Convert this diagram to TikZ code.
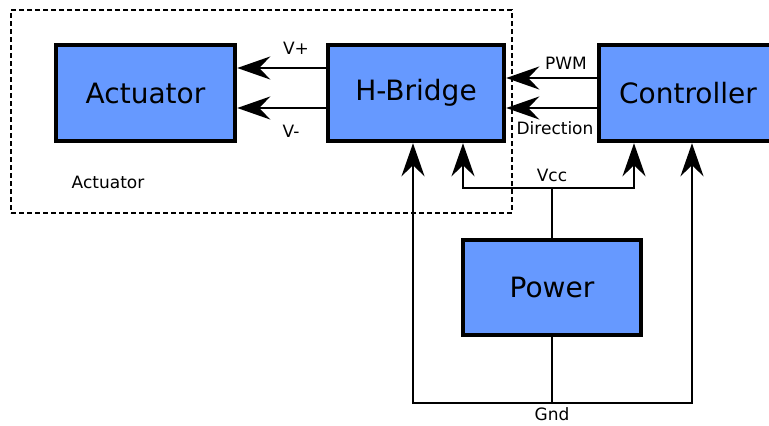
\documentclass[tikz,border=0pt]{standalone}
\usepackage{fontspec}
\setmainfont{DejaVu Sans}
\usetikzlibrary{arrows.meta}
\definecolor{boxblue}{RGB}{102,153,255}
\begin{document}
\begin{tikzpicture}[x=1pt,y=-1pt,
  blk/.style={draw=black,line width=4.5pt,fill=boxblue,inner sep=0pt,font=\fontsize{28}{30}\selectfont},
  arr/.style={line width=2.5pt,-{Stealth[length=33pt,width=23pt,inset=11pt]}},
  wire/.style={line width=2.5pt},
  lbl/.style={font=\fontsize{17}{19}\selectfont,inner sep=0pt},
  grp/.style={draw=black,line width=1.5pt,dash pattern=on 5pt off 3pt}]
\useasboundingbox (0,0) rectangle (769,426);
\node[grp,minimum width=501pt,minimum height=203pt,inner sep=0pt] (group) at (261.5,111.5) {};
\node[blk,minimum width=179pt,minimum height=96pt] (act) at (145.5,93) {Actuator};
\node[blk,minimum width=176pt,minimum height=96pt] (hb) at (416,93) {H-Bridge};
\node[blk,minimum width=178pt,minimum height=96pt] (ctl) at (688,93) {Controller};
\node[blk,minimum width=178pt,minimum height=95pt] (pw) at (552,287.5) {Power};
% actuator links
\draw[arr] (hb.west |- 0,68) -- (act.east |- 0,68);
\draw[arr] (hb.west |- 0,108) -- (act.east |- 0,108);
\node[lbl] (vp) at (296,48) {V+};
\node[lbl] (vm) at (291,131) {V-};
% controller links
\draw[arr] (ctl.west |- 0,78) -- (hb.east |- 0,78);
\draw[arr] (ctl.west |- 0,108) -- (hb.east |- 0,108);
\node[lbl] (pwm) at (566,63) {PWM};
\node[lbl] (dir) at (555,128) {Direction};
% Vcc
\coordinate (vcc) at (552,188);
\coordinate (vccL) at (463,188);
\coordinate (vccR) at (634,188);
\draw[wire] (pw.north) -- (vcc);
\draw[arr] (vcc) -- (vccL) -- (vccL |- hb.south);
\draw[arr] (vcc) -- (vccR) -- (vccR |- ctl.south);
\node[lbl] (vcclbl) at (552,175) {Vcc};
% Gnd
\coordinate (gnd) at (552,403);
\coordinate (gndL) at (413,403);
\coordinate (gndR) at (692,403);
\draw[wire] (pw.south) -- (gnd);
\draw[arr] (gnd) -- (gndL) -- (gndL |- hb.south);
\draw[arr] (gnd) -- (gndR) -- (gndR |- ctl.south);
\node[lbl] (gndlbl) at (552,414) {Gnd};
% group label
\node[lbl] (grplbl) at (108,182) {Actuator};
\end{tikzpicture}
\end{document}
